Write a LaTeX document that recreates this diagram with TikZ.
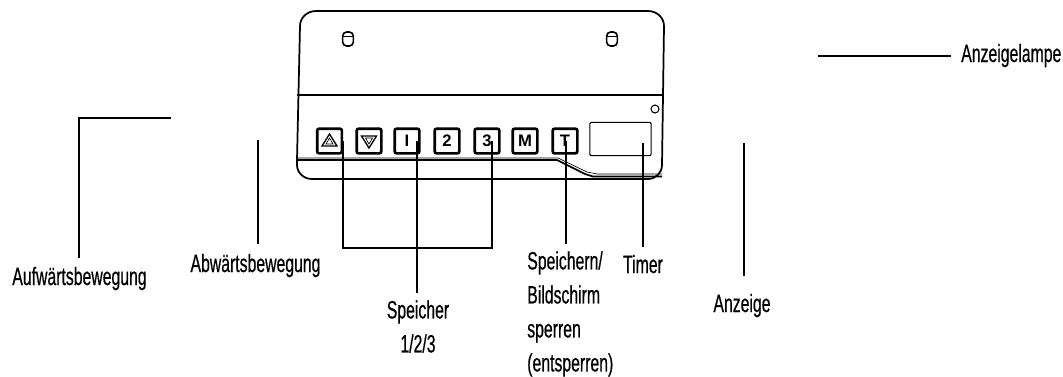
\documentclass[tikz,border=0pt]{standalone}
\usepackage{fontspec}
\setmainfont[FakeStretch=0.63,FakeBold=0.5]{Liberation Sans}
\newfontfamily\keyfont{Liberation Sans}
\usepackage{tikz}

\begin{document}
\begin{tikzpicture}[
  x=0.75pt, y=-0.75pt,
  label/.style={inner sep=0pt, font=\fontsize{18.8}{25.5}\selectfont},
  keybox/.style={rectangle, draw, rounded corners=1.5pt, line width=2pt, minimum width=18.5pt, minimum height=18.5pt, inner sep=0pt, font=\keyfont\bfseries\fontsize{12.5}{12.5}\selectfont},
  slot/.style={draw, rounded corners=3pt, line width=1.2pt, minimum width=8pt, minimum height=10.5pt, inner sep=0pt},
  lead/.style={line width=1.6pt}
]
\useasboundingbox (0,0) rectangle (1063,376);

% housing
\draw[line width=1.3pt] (297,160) -- (300,26) to[out=90,in=180] (316,11) -- (648,11) to[out=0,in=90] (664,26) -- (662,165) to[out=-90,in=0] (648,179) -- (312,179) to[out=180,in=-90] (297,165) -- cycle;
\draw[line width=1.3pt] (297,95) -- (663,95);
\draw[line width=1.3pt] (297,160) -- (557,160) -- (585,174) -- (593,176.5) -- (662,176.5);
\draw[line width=0.5pt] (297,158) -- (558,158) -- (587,172) -- (597,174) -- (662,174);

% slots
\node[slot] (slotl) at (348,39) {};
\node[slot] (slotr) at (612,39) {};
\draw[line width=0.8pt] ([yshift=2pt]slotl.west) -- ([yshift=2pt]slotl.east);
\draw[line width=0.8pt] ([yshift=2pt]slotr.west) -- ([yshift=2pt]slotr.east);

% keys
\node[keybox] (up) at (329.5,141) {};
\node[keybox] (down) at (369,141) {};
\node[keybox] (one) at (407,141) {I};
\node[keybox] (two) at (447,141) {2};
\node[keybox] (three) at (487,141) {3};
\node[keybox] (mem) at (525,141) {M};
\node[keybox] (tim) at (565,141) {T};
\draw[line width=1pt] (329.5,134) -- (337,146) -- (322,146) -- cycle;
\draw[line width=0.5pt] (329.5,138) -- (333,144) -- (326,144) -- cycle;
\draw[line width=1pt] (369,148) -- (361.5,136) -- (376.5,136) -- cycle;
\draw[line width=0.5pt] (369,144) -- (365.5,138) -- (372.5,138) -- cycle;

% display and lamp
\node[draw, rounded corners=1pt, line width=0.8pt, minimum width=46pt, minimum height=25pt, inner sep=0pt] (disp) at (620.5,139) {};
\node[draw, circle, line width=0.8pt, minimum size=6pt, inner sep=0pt] (lamp) at (655,109) {};

% labels
\node[label, anchor=base] (lblup) at (79.5,285) {Aufwärtsbewegung};
\node[label, anchor=base] (lbldown) at (255.5,272) {Abwärtsbewegung};
\node[label, anchor=north, align=center] (lblmem) at (418,300) {Speicher\\1/2/3};
\node[label, anchor=north west, align=left] (lblsave) at (527,251) {Speichern/\\Bildschirm\\sperren\\(entsperren)};
\node[label, anchor=base] (lbltimer) at (643,273) {Timer};
\node[label, anchor=base] (lbldisp) at (742,312) {Anzeige};
\node[label, anchor=base west] (lbllamp) at (961,62) {Anzeigelampe};

% free ends
\coordinate (upend) at (171,118);
\coordinate (upbend) at (79,118);
\coordinate (downend) at (258,140);
\coordinate (dispend) at (744,143);
\coordinate (lampstart) at (818,56);
\coordinate (lampstop) at (951,56);
\coordinate (ka) at (343,141);
\coordinate (kb) at (417,141);
\coordinate (kc) at (492,141);
\coordinate (kd) at (566,141);
\coordinate (ke) at (643,143);

\draw[lead] (upend) -- (upbend) -- (79,258);
\draw[lead] (downend) -- (258,244);
\draw[lead] (dispend) -- (744,276);
\draw[lead] (lampstart) -- (lampstop);
\draw[lead] (ka) -- (343,248) -- (492,248) -- (kc);
\draw[lead] (kb) -- (417,293);
\draw[lead] (kd) -- (566,244);
\draw[lead] (ke) -- (643,247);
\end{tikzpicture}
\end{document}
